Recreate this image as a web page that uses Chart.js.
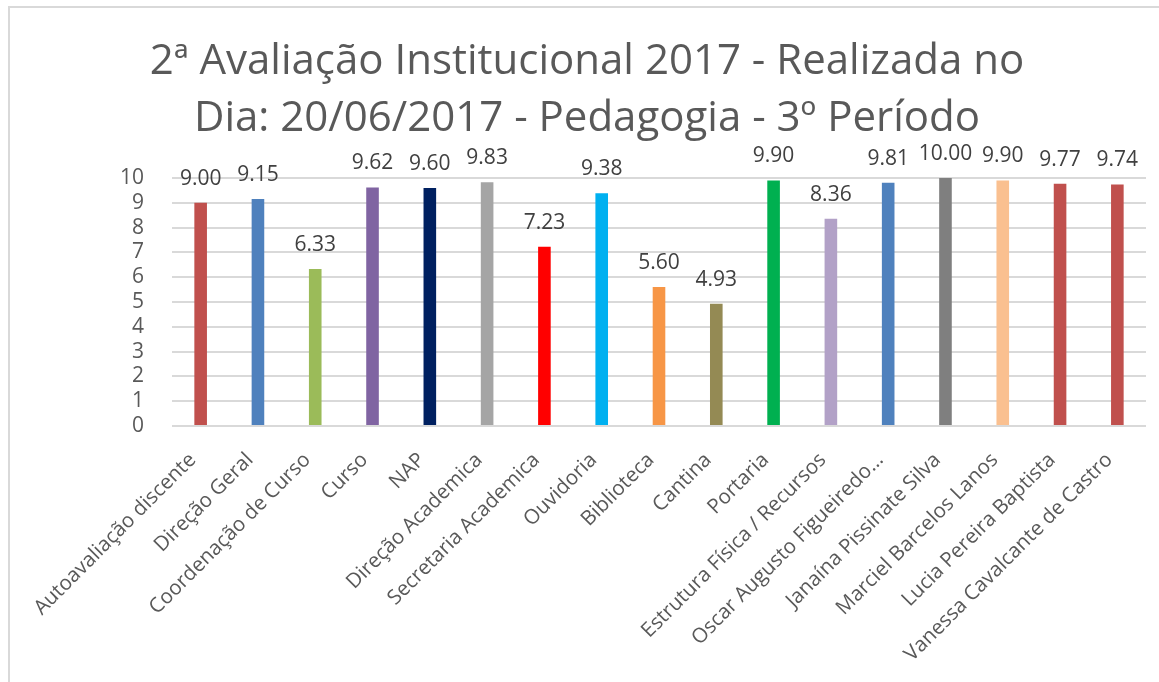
<!DOCTYPE html>
<html>
<head>
<meta charset="utf-8">
<script src="https://cdn.jsdelivr.net/npm/chart.js@4.4.1/dist/chart.umd.min.js"></script>
<style>
  html, body { margin: 0; padding: 0; background: #fff; }
  body { width: 1159px; height: 682px; position: relative; overflow: hidden; }
  #frame {
    position: absolute; left: 8px; top: 6px; width: 1200px; height: 720px;
    border-left: 2px solid #d9d9d9; border-top: 2px solid #d9d9d9;
  }
  #wrap { position: absolute; left: 0; top: 0; width: 1159px; height: 682px; }
</style>
</head>
<body>
<div id="frame"></div>
<div id="wrap"><canvas id="chart"></canvas></div>
<script>
const categories = [
  "Autoavaliação discente", "Direção Geral", "Coordenação de Curso", "Curso", "NAP",
  "Direção Academica", "Secretaria Academica", "Ouvidoria", "Biblioteca", "Cantina",
  "Portaria", "Estrutura Física / Recursos", "Oscar Augusto Figueiredo…",
  "Janaína Pissinate Silva", "Marciel Barcelos Lanos", "Lucia Pereira Baptista",
  "Vanessa Cavalcante de Castro"
];
const scores = [9.00, 9.15, 6.33, 9.62, 9.60, 9.83, 7.23, 9.38, 5.60, 4.93, 9.90, 8.36, 9.81, 10.00, 9.90, 9.77, 9.74];
const barColors = [
  "#C0504D", "#4F81BD", "#9BBB59", "#8064A2", "#002060", "#A5A5A5", "#FF0000", "#00B0F0",
  "#F79646", "#948A54", "#00B050", "#B2A1C7", "#4F81BD", "#7F7F7F", "#FAC090", "#C0504D", "#C0504D"
];
const yTicks = [0, 1, 2, 3, 4, 5, 6, 7, 8, 9, 10];
const titleLines = ["2ª Avaliação Institucional 2017 - Realizada no", "Dia: 20/06/2017 - Pedagogia - 3º Período"];

// values written above each bar
const valueLabels = {
  id: "valueLabels",
  afterDatasetsDraw(chart) {
    const ctx = chart.ctx;
    const meta = chart.getDatasetMeta(0);
    ctx.save();
    ctx.font = '21px "Open Sans"';
    ctx.fillStyle = "#404040";
    ctx.textAlign = "center";
    ctx.textBaseline = "alphabetic";
    meta.data.forEach((bar, i) => {
      ctx.fillText(scores[i].toFixed(2), bar.x, bar.y - 18);
    });
    ctx.restore();
  }
};

new Chart(document.getElementById("chart"), {
  type: "bar",
  data: {
    labels: categories,
    datasets: [{
      data: scores,
      backgroundColor: barColors,
      categoryPercentage: 1,
      barPercentage: 0.22
    }]
  },
  options: {
    responsive: true,
    maintainAspectRatio: false,
    animation: false,
    layout: { padding: { left: 28, right: 13, top: 0, bottom: 0 } },
    plugins: {
      legend: { display: false },
      tooltip: { enabled: false },
      title: {
        display: true,
        text: titleLines,
        color: "#595959",
        font: { family: "Open Sans", size: 42, weight: "normal", lineHeight: 1.357 },
        padding: { top: 34, bottom: 30 }
      }
    },
    scales: {
      x: {
        grid: { display: false },
        border: { display: false },
        ticks: {
          autoSkip: false,
          minRotation: 45,
          maxRotation: 45,
          padding: 14,
          labelOffset: -8,
          color: "#595959",
          font: { family: "Open Sans", size: 20.5 }
        },
        afterFit(scale) { scale.height = 682 - 426; }
      },
      y: {
        min: 0,
        max: 10,
        afterBuildTicks(scale) { scale.ticks = yTicks.map(v => ({ value: v })); },
        grid: { color: "#d9d9d9", lineWidth: 2, drawTicks: false },
        border: { display: false },
        ticks: {
          autoSkip: false,
          padding: 28,
          color: "#595959",
          font: { family: "Open Sans", size: 21 }
        },
        afterFit(scale) { scale.width = 172 - 28; }
      }
    }
  },
  plugins: [valueLabels]
});
</script>
</body>
</html>
